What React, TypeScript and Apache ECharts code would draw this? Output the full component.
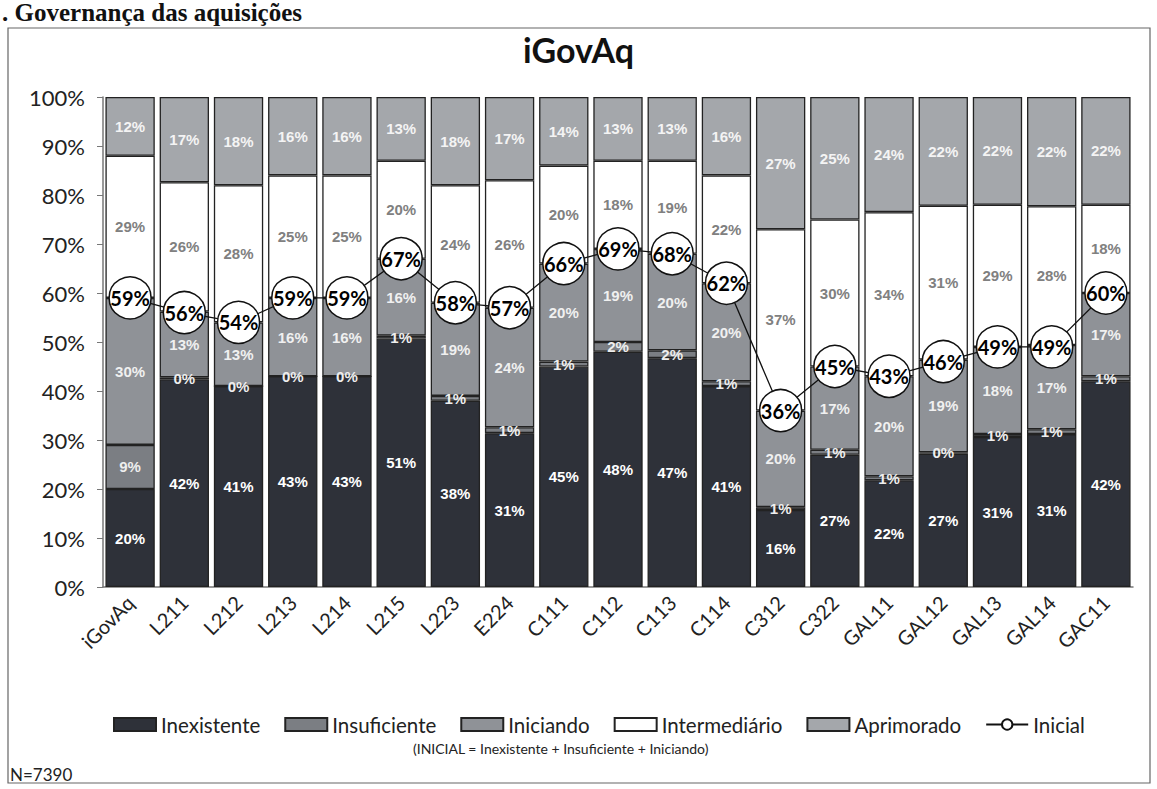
import React, { useEffect, useRef } from "react";
import * as echarts from "echarts";

const categories = ["iGovAq", "L211", "L212", "L213", "L214", "L215", "L223", "E224", "C111", "C112", "C113", "C114", "C312", "C322", "GAL11", "GAL12", "GAL13", "GAL14", "GAC11"];
// Estimated unrounded shares (labels show them rounded, as in the reference)
const inexistente = [20, 42.4, 41, 43, 43, 50.7, 38, 31.4, 45, 48, 46.7, 41, 15.7, 27, 21.8, 27.2, 30.6, 31.2, 42];
const insuficiente = [9, 0.4, 0, 0, 0, 0.6, 1, 1.2, 1, 2, 1.6, 1, 0.6, 1, 0.8, 0.3, 0.6, 1, 1];
const iniciando = [30, 13.4, 13, 16, 16, 15.7, 19, 24.4, 20, 19, 19.7, 20, 19.7, 17, 20.4, 18.9, 17.8, 17.2, 17];
const intermediario = [29, 26.4, 28, 25, 25, 20, 24, 26, 20, 18, 19, 22, 37, 30, 33.5, 31.4, 29, 28.3, 18];
const aprimorado = [12, 17.4, 18, 16, 16, 13, 18, 17, 14, 13, 13, 16, 27, 25, 23.5, 22.2, 22, 22.3, 22];
const inicial = [59, 56, 54, 59, 59, 67, 58, 57, 66, 69, 68, 62, 36, 45, 43, 46, 49, 49, 60];

const barNames = ["Inexistente", "Insuficiente", "Iniciando", "Intermediário", "Aprimorado"];
const lineName = "Inicial";
const yTicks = [0, 10, 20, 30, 40, 50, 60, 70, 80, 90, 100];

const FONT = "Lato, 'Open Sans', sans-serif";

export default function App() {
  const ref = useRef<HTMLDivElement>(null);

  useEffect(() => {
    if (!ref.current) return;
    const chart = echarts.init(ref.current, null, { renderer: "svg" });

    const barSeries = (name: string, data: number[], color: string, labelColor: string) => ({
      name,
      type: "bar",
      stack: "total",
      data,
      barCategoryGap: "9%",
      itemStyle: { color, borderColor: "#222", borderWidth: 1.3 },
      label: {
        show: true,
        position: "inside",
        formatter: (p: any) => `${Math.round(p.value)}%`,
        color: labelColor,
        fontFamily: "'Liberation Sans', Arial, sans-serif",
        fontWeight: "bold",
        fontSize: 15,
      },
      emphasis: { disabled: true },
    });

    chart.setOption({
      animation: false,
      backgroundColor: "#ffffff",
      title: {
        text: "iGovAq",
        left: "center",
        top: 27,
        textStyle: { fontFamily: FONT, fontWeight: "bold", fontSize: 34, color: "#111" },
      },
      grid: { left: 103, right: 24, top: 97, bottom: 202, containLabel: false },
      legend: {
        data: [...barNames.map((n) => ({ name: n, icon: "rect" })), { name: lineName }],
        left: 108,
        top: 709,
        itemWidth: 42,
        itemHeight: 13,
        itemGap: 24,
        textStyle: { fontFamily: FONT, fontSize: 20.5, color: "#222" },
      },
      xAxis: {
        type: "category",
        data: categories,
        axisLine: { lineStyle: { color: "#777", width: 1.5 } },
        axisTick: { show: false },
        axisLabel: {
          rotate: 45,
          interval: 0,
          margin: 12,
          fontFamily: FONT,
          fontSize: 20,
          color: "#222",
        },
      },
      yAxis: {
        type: "value",
        min: 0,
        max: 100,
        interval: 10,
        axisLine: { show: true, lineStyle: { color: "#777", width: 1.5 } },
        axisTick: { show: true, length: 6, lineStyle: { color: "#777" } },
        splitLine: { show: false },
        axisLabel: {
          formatter: (v: number) => (yTicks.includes(v) ? `${v}%` : ""),
          fontFamily: FONT,
          fontSize: 22,
          color: "#222",
          margin: 18,
        },
      },
      series: [
        barSeries("Inexistente", inexistente, "#2e3139", "#ffffff"),
        barSeries("Insuficiente", insuficiente, "#7b7e83", "#eeeeee"),
        barSeries("Iniciando", iniciando, "#8f9297", "#f0f0f0"),
        barSeries("Intermediário", intermediario, "#ffffff", "#808080"),
        barSeries("Aprimorado", aprimorado, "#a4a7ab", "#f4f4f4"),
        {
          name: lineName,
          type: "line",
          data: inicial,
          z: 10,
          symbol: "circle",
          symbolSize: 42,
          lineStyle: { color: "#111", width: 1.3 },
          itemStyle: { color: "#ffffff", borderColor: "#111", borderWidth: 1.5 },
          label: {
            show: true,
            position: "inside",
            formatter: "{c}%",
            fontFamily: FONT,
            fontWeight: "bold",
            fontSize: 20,
            color: "#000",
          },
          emphasis: { disabled: true },
        },
      ],
      graphic: [
        {
          type: "text",
          left: 2,
          top: 0,
          style: {
            text: ". Governança das aquisições",
            font: "bold 25px 'Liberation Serif', serif",
            fill: "#111",
          },
        },
        {
          type: "rect",
          shape: { x: 8, y: 28, width: 1142, height: 755 },
          style: { fill: "none", stroke: "#666", lineWidth: 1.2 },
          z: -1,
        },
        {
          type: "text",
          left: 413,
          top: 741,
          style: {
            text: "(INICIAL = Inexistente + Insuficiente + Iniciando)",
            font: `14px ${FONT}`,
            fill: "#222",
          },
        },
        {
          type: "text",
          left: 10,
          top: 766,
          style: { text: "N=7390", font: `17px ${FONT}`, fill: "#222" },
        },
      ],
    });

    return () => chart.dispose();
  }, []);

  return (
    <div
      ref={ref}
      style={{ position: "absolute", left: 0, top: 0, width: 1157, height: 789 }}
    />
  );
}
